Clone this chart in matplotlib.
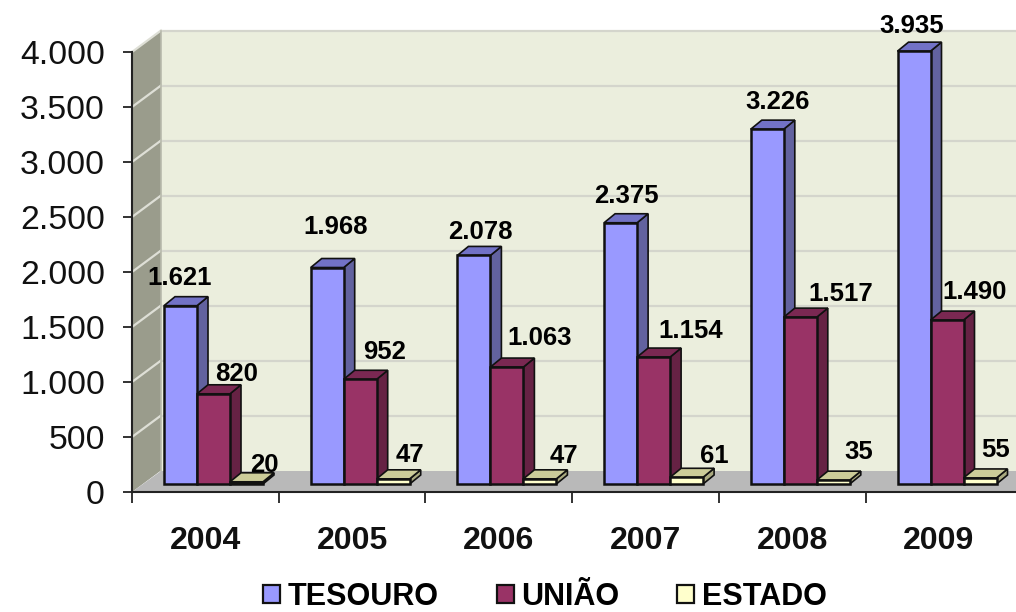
import matplotlib
matplotlib.use("Agg")
import matplotlib.pyplot as plt
from matplotlib.patches import Polygon, Patch

plt.rcParams['font.family'] = ['Liberation Sans', 'DejaVu Sans']

years = ['2004', '2005', '2006', '2007', '2008', '2009']
tesouro = [1621, 1968, 2078, 2375, 3226, 3935]
uniao = [820, 952, 1063, 1154, 1517, 1490]
estado = [20, 47, 47, 61, 35, 55]
series_names = ['TESOURO', 'UNIÃO', 'ESTADO']
yticks = [0, 500, 1000, 1500, 2000, 2500, 3000, 3500, 4000]

# layout: label offsets from each bar's top centre, pixels
off_t = [(-1, 28), (8, 41), (6, 23), (6, 27), (10, 27), (-2, 25)]
off_u = [(23, 20), (24, 27), (33, 29), (37, 26), (40, 23), (28, 28)]
off_e = [(18, 17), (17, 24), (24, 23), (28, 21), (25, 28), (16, 28)]

W, H = 1016, 612
X0, Y0, Ytop = 132, 492, 52
GROUP = 146.7
PXY = (Y0 - Ytop) / 4000

fig = plt.figure(figsize=(W / 100, H / 100), dpi=100, facecolor='white')
ax = fig.add_axes([X0 / W, (H - Y0) / H, (W - X0) / W, (Y0 - Ytop) / H])
ax.set_xlim(0, (W - X0) / GROUP)
ax.set_ylim(0, 4000)
ax.set_facecolor('none')


def dx(p):
    return p / GROUP


def dy(p):
    return p / PXY


xmax = ax.get_xlim()[1]
wx, wy = dx(29), dy(21.5)
top = 4000 + wy

# back wall, side wall, floor
ax.add_patch(Polygon([(wx, wy), (xmax, wy), (xmax, top), (wx, top)], closed=True,
                     fc='#EBEEDD', ec='none', zorder=1, clip_on=False))
ax.add_patch(Polygon([(0, 0), (wx, wy), (wx, top), (0, 4000)], closed=True,
                     fc='#9A9C8C', ec='none', zorder=1, clip_on=False))
ax.add_patch(Polygon([(0, 0), (xmax, 0), (xmax, wy), (wx, wy)], closed=True,
                     fc='#B9B9B9', ec='none', zorder=1.5, clip_on=False))
for t in yticks[1:]:
    ax.plot([wx, xmax], [t + wy, t + wy], color='#D4D5CC', lw=1.6, zorder=1.2, clip_on=False)
    ax.plot([0, wx], [t, t + wy], color='#DEDFD6', lw=1.6, zorder=1.2, clip_on=False)
ax.plot([wx, wx], [wy, top], color='#B8BAAC', lw=1.2, zorder=1.3, clip_on=False)

base = dy(8)
bw = dx(33)
first = dx(32)
ddx, ddy = dx(11), dy(9)
styles = [
    (tesouro, '#9999FF', '#62629F', '#7272C6', off_t),
    (uniao, '#993366', '#662244', '#7A2852', off_u),
    (estado, '#FFFFCC', '#AAAA80', '#CCCC99', off_e),
]
edge = '#111111'

for i in range(len(years)):
    for s, (vals, front, side, topc, offs) in enumerate(styles):
        x = i + first + s * bw
        v = vals[i]
        ytop = base + v
        z = 3 + i + s * 0.1
        ax.add_patch(Polygon([(x + bw, base), (x + bw + ddx, base + ddy),
                              (x + bw + ddx, ytop + ddy), (x + bw, ytop)], closed=True,
                             fc=side, ec=edge, lw=1.2, zorder=z, clip_on=False))
        ax.add_patch(Polygon([(x, ytop), (x + ddx, ytop + ddy),
                              (x + bw + ddx, ytop + ddy), (x + bw, ytop)], closed=True,
                             fc=topc, ec=edge, lw=1.2, zorder=z, clip_on=False))
        ax.bar(x, v, width=bw, bottom=base, align='edge', color=front, edgecolor=edge,
               linewidth=1.8, zorder=z + 0.01, clip_on=False)
        ax.annotate(f'{v:,}'.replace(',', '.'), xy=(x + bw / 2, ytop), xytext=offs[i],
                    textcoords='offset pixels', ha='center', va='center',
                    fontsize=18.5, fontweight='bold', color='black', zorder=20,
                    annotation_clip=False)

# axes
for k in ('top', 'right'):
    ax.spines[k].set_visible(False)
for k in ('left', 'bottom'):
    ax.spines[k].set_color('#222222')
    ax.spines[k].set_linewidth(1.5)
    ax.spines[k].set_zorder(2)

ax.set_yticks(yticks)
ax.set_yticklabels([f'{t:,}'.replace(',', '.') for t in yticks], fontsize=24.3, color='#111111')
ax.tick_params(axis='y', length=6.5, width=1.3, color='#222222', pad=13)

ax.set_xticks(range(len(years)))
ax.set_xticklabels([])
ax.tick_params(axis='x', length=8, width=1.3, color='#222222')
for i, yr in enumerate(years):
    ax.annotate(yr, xy=(i + 0.5, 0), xytext=(0, -49), textcoords='offset pixels',
                ha='center', va='center', fontsize=23, fontweight='bold', color='#111111',
                annotation_clip=False)

handles = [Patch(fc=c[1], ec='#111111', lw=1.6) for c in styles]
leg = fig.legend(handles, series_names, loc='center', bbox_to_anchor=(545 / W, (H - 597) / H),
                 ncol=3, frameon=False, handlelength=0.55, handleheight=0.55,
                 handletextpad=0.25, columnspacing=1.9, borderpad=0,
                 prop={'weight': 'bold', 'size': 22})

fig.savefig('out.png', dpi=100, facecolor='white')
